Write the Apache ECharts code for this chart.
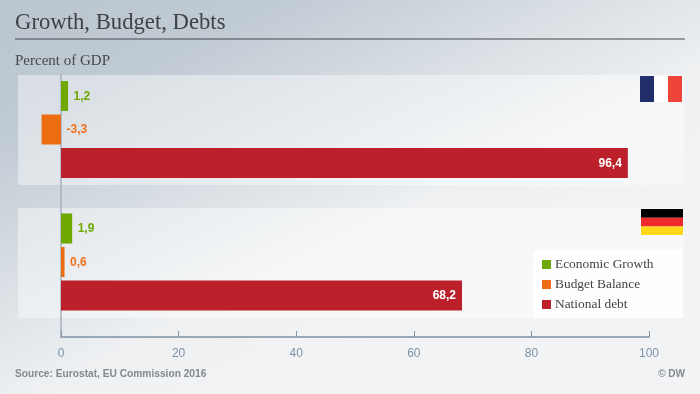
<!DOCTYPE html>
<html><head><meta charset="utf-8">
<style>html,body{margin:0;padding:0;background:#f2f3f5}#c{width:700px;height:394px}</style>
<script src="https://cdn.jsdelivr.net/npm/echarts@6/dist/echarts.min.js"></script></head>
<body><div id="c"></div>
<script>
const categories = ['Economic Growth', 'Budget Balance', 'National debt'];
const france = [1.2, -3.3, 96.4];
const germany = [1.9, 0.6, 68.2];
const xTicks = [0, 20, 40, 60, 80, 100];
const colors = ['#6fa800', '#ec6c12', '#bb202b'];
const textColors = ['#6fa800', '#f0701a', '#ffffff'];

const serif = '"Liberation Serif","DejaVu Serif",serif';
const sans = '"Liberation Sans",Arial,sans-serif';
const comma = p => String(p.value).replace('.', ',');

function rows(values, gridIdx) {
  return categories.map((name, i) => ({
    name, type: 'bar', xAxisIndex: gridIdx, yAxisIndex: gridIdx,
    data: categories.map((c, j) => j === i ? values[i] : null),
    barWidth: 30, barGap: '-100%', clip: false,
    itemStyle: { color: colors[i] },
    label: {
      show: true, position: i === 2 ? 'insideRight' : 'right',
      distance: i === 2 ? 6 : 5.5, offset: [0, 0.5], formatter: comma,
      color: textColors[i], fontFamily: sans, fontWeight: 'bold', fontSize: 12
    }
  }));
}
const hiddenX = idx => ({ gridIndex: idx, type: 'value', min: 0, max: 100, show: false });
const hiddenY = idx => ({ gridIndex: idx, type: 'category', data: categories, inverse: true, show: false });
const panel = (y) => ({ type: 'rect', z: -10, shape: { x: 18, y, width: 666, height: 110 }, style: { fill: 'rgba(255,255,255,0.42)' } });
const band = (x, y, w, h, fill) => ({ type: 'rect', z: -5, shape: { x, y, width: w, height: h }, style: { fill } });
const chart = echarts.init(document.getElementById('c'));
chart.setOption({
  animation: false,
  backgroundColor: new echarts.graphic.LinearGradient(0, 0, 260, 530, [
    { offset: 0, color: '#bac5ce' }, { offset: 0.2, color: '#c0cad3' },
    { offset: 0.38, color: '#d3dae0' }, { offset: 0.62, color: '#eef0f2' }, { offset: 0.8, color: '#f2f3f5' }, { offset: 1, color: '#f2f3f5' }
  ], true),
  title: [
    { text: 'Growth, Budget, Debts', left: 15, top: 12, padding: 0, textStyle: { fontFamily: serif, fontWeight: 'normal', fontSize: 22.7, color: '#3f4347' } },
    { text: 'Percent of GDP', left: 15, top: 54, padding: 0, textStyle: { fontFamily: serif, fontWeight: 'normal', fontSize: 15, color: '#46494d' } },
    { text: 'Source: Eurostat, EU Commission 2016', left: 15, top: 369, padding: 0, textStyle: { fontFamily: sans, fontWeight: 'bold', fontSize: 10.2, color: '#83898f' } },
    { text: '© DW', right: 15, top: 369, padding: 0, textStyle: { fontFamily: sans, fontWeight: 'bold', fontSize: 10, color: '#83898f' } }
  ],
  legend: {
    orient: 'vertical', left: 533, top: 250, itemWidth: 9, itemHeight: 9, itemGap: 5,
    padding: [7, 29, 6, 9], backgroundColor: 'rgba(255,255,255,0.8)', icon: 'rect',
    data: categories, selectedMode: false,
    textStyle: { fontFamily: serif, fontSize: 13.4, color: '#404448', padding: [0, 0, 0, -1], lineHeight: 15 }
  },
  grid: [
    { left: 61, width: 588, top: 79.25, height: 100.5 },
    { left: 61, width: 588, top: 211.75, height: 100.5 },
    { left: 61, width: 588, top: 75, height: 262 }
  ],
  xAxis: [hiddenX(0), hiddenX(1), {
    gridIndex: 2, type: 'value', min: 0, max: 100, interval: xTicks[1] - xTicks[0],
    splitLine: { show: false },
    axisLine: { show: true, onZero: false, lineStyle: { color: '#7d91a5', width: 1.5 } },
    axisTick: { show: true, inside: true, length: 6, lineStyle: { color: '#7d91a5', width: 1 } },
    axisLabel: { color: '#7d93a8', fontFamily: sans, fontSize: 12, margin: 11 }
  }],
  yAxis: [hiddenY(0), hiddenY(1), {
    gridIndex: 2, type: 'value', min: 0, max: 1, splitLine: { show: false },
    axisTick: { show: false }, axisLabel: { show: false },
    axisLine: { show: true, lineStyle: { color: '#a3b3c1', width: 1.5 } }
  }],
  series: [...rows(france, 0), ...rows(germany, 1)],
  graphic: [
    { type: 'line', z: -5, shape: { x1: 15, y1: 39, x2: 685, y2: 39 }, style: { stroke: '#44484c', lineWidth: 1.2 } },
    panel(75), panel(208),
    band(640, 76, 14, 26, '#232f6a'), band(654, 76, 14, 26, '#ffffff'), band(668, 76, 14, 26, '#ee443a'),
    band(641, 209, 42, 8.7, '#000000'), band(641, 217.7, 42, 8.7, '#ee2a2a'), band(641, 226.4, 42, 8.6, '#ffd81a')
  ]
});
</script></body></html>
